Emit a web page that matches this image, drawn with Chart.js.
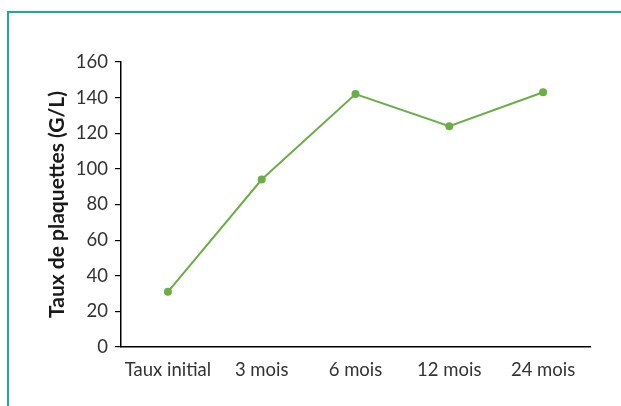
<!DOCTYPE html>
<html>
<head>
<meta charset="utf-8">
<script src="https://cdn.jsdelivr.net/npm/chart.js@4"></script>
<style>
  html, body { margin: 0; padding: 0; background: #fff; }
  #wrap { position: relative; width: 621px; height: 406px; overflow: hidden; }
  #frame { position: absolute; left: 7px; top: 11px; width: 640px; height: 420px;
           border-top: 2px solid #1ea99f; border-left: 2px solid #1ea99f; }
  #myChart { position: absolute; left: 0; top: 0; }
</style>
</head>
<body>
<div id="wrap">
  <div id="frame"></div>
  <canvas id="myChart" width="621" height="406"></canvas>
</div>
<script>
// données
var periodes = ['Taux initial', '3 mois', '6 mois', '12 mois', '24 mois'];
var plaquettes = [31, 94, 142, 124, 143];
var yTicks = [0, 20, 40, 60, 80, 100, 120, 140, 160];

var police = "Lato, sans-serif";
var vert = '#6aae45';

var ctx = document.getElementById('myChart').getContext('2d');
var chart = new Chart(ctx, {
  type: 'line',
  data: {
    labels: periodes,
    datasets: [{
      label: 'Plaquettes',
      data: plaquettes,
      borderColor: vert,
      backgroundColor: vert,
      borderWidth: 2,
      pointRadius: 4,
      pointBorderWidth: 0,
      fill: false,
      tension: 0
    }]
  },
  options: {
    responsive: false,
    animation: false,
    layout: { padding: { left: 0, top: 62, right: 31, bottom: 0 } },
    plugins: { legend: { display: false }, tooltip: { enabled: false } },
    scales: {
      x: {
        offset: true,
        grid: { display: false },
        border: { display: true, color: '#000', width: 1.5 },
        ticks: { color: '#333', font: { family: police, size: 18.5 }, padding: 4, maxRotation: 0 },
        afterFit: function (s) { s.height = 59; }
      },
      y: {
        min: 0,
        max: 160,
        afterBuildTicks: function (s) { s.ticks = yTicks.map(function (v) { return { value: v }; }); },
        grid: { display: true, drawOnChartArea: false, drawTicks: true, tickLength: 6, color: '#000', lineWidth: 1.2 },
        border: { display: true, color: '#000', width: 1.5 },
        ticks: { color: '#333', font: { family: police, size: 18.5 }, padding: 7 },
        title: {
          display: true,
          text: 'Taux de plaquettes (G/L)',
          color: '#1a1a1a',
          font: { family: police, size: 21, weight: 'bold' },
          padding: { top: 45, bottom: 0 }
        },
        afterFit: function (s) { s.width = 121; }
      }
    }
  }
});
</script>
</body>
</html>
